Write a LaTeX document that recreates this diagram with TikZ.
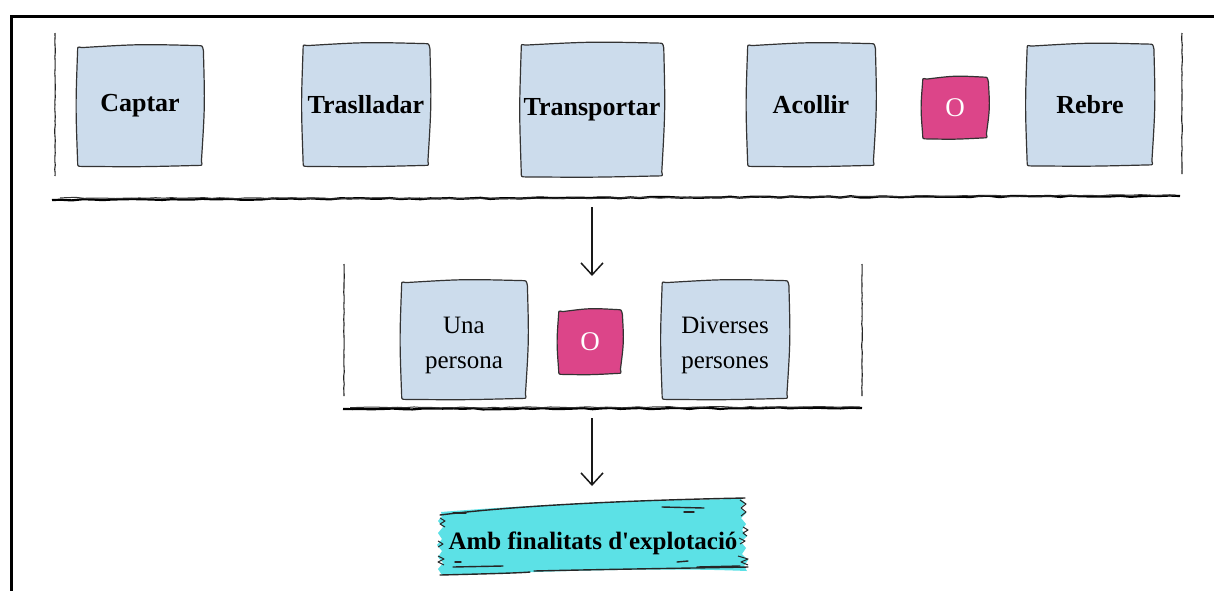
\documentclass[tikz,border=0pt]{standalone}
\usepackage{fontspec}
\setmainfont{Liberation Serif}
\usetikzlibrary{decorations.pathmorphing,arrows.meta,backgrounds}
\definecolor{boxblue}{HTML}{CCDCEC}
\definecolor{pinkO}{HTML}{DC4589}
\definecolor{tapecyan}{HTML}{5CE1E6}
% hand-drawn outline round a named node, #2 = fill colour
\newcommand\sketchbox[2]{%
  \filldraw[skline, fill=#2]
    ([shift={(4,1)}]#1.north west) .. controls ([shift={(0,-2.5)}]#1.north) .. ([shift={(-4,-1)}]#1.north east)
    .. controls ([shift={(0,-1)}]#1.north east) .. ([shift={(1,4)}]#1.north east)
    .. controls ([shift={(2.5,0)}]#1.east) .. ([shift={(-1,-4)}]#1.south east)
    .. controls ([shift={(0,0)}]#1.south east) .. ([shift={(-4,0)}]#1.south east)
    .. controls ([shift={(0,1.5)}]#1.south) .. ([shift={(4,1)}]#1.south west)
    .. controls ([shift={(0,1)}]#1.south west) .. ([shift={(0,-4)}]#1.south west)
    .. controls ([shift={(-2,0)}]#1.west) .. ([shift={(0,4)}]#1.north west)
    .. controls ([shift={(0,0)}]#1.north west) .. cycle;}
\begin{document}
\pgfmathsetseed{7}
\begin{tikzpicture}[x=0.5pt,y=-0.5pt,
  every node/.style={font=\fontsize{12.5}{17.5}\selectfont},
  sbox/.style={inner sep=1pt, align=center},
  bbox/.style={sbox, font=\fontsize{13}{15}\selectfont\bfseries},
  obox/.style={sbox, text=white, font=\fontsize{13.5}{15}\selectfont},
  skline/.style={draw=black!80, line width=0.6pt, line join=round},
  vline/.style={draw=black!85, line width=0.55pt, decorate, decoration={random steps,segment length=2pt,amplitude=0.15pt}},
  brush/.style={draw=black, line width=1.1pt, decorate, decoration={random steps,segment length=5pt,amplitude=0.35pt}},
  brushthin/.style={draw=black!80, line width=0.5pt, decorate, decoration={random steps,segment length=4pt,amplitude=0.3pt}},
  arr/.style={draw=black!90, line width=0.75pt, -{Straight Barb[length=6pt,width=11pt]}},
  tapeline/.style={draw=black!85, line width=0.7pt, line cap=round, line join=round},
  squig/.style={draw=black!85, line width=0.5pt, line join=round}
]
\useasboundingbox (0,0) rectangle (1214,590);

% ---- nodes (text) ----
\node[bbox, minimum width=62pt, minimum height=59pt] (captar) at (140,106) {Captar};
\node[bbox, minimum width=62.5pt, minimum height=60pt] (trasl) at (366,105) {Traslladar};
\node[bbox, minimum width=70pt, minimum height=65.5pt] (transp) at (592,110) {Transportar};
\node[bbox, minimum width=63pt, minimum height=60pt] (acoll) at (811,105) {Acollir};
\node[obox, minimum width=32pt, minimum height=29.5pt] (o1) at (955,108) {O};
\node[bbox, minimum width=62.5pt, minimum height=59.5pt] (rebre) at (1090,105) {Rebre};

\node[sbox, minimum width=62pt, minimum height=58pt, text depth=0pt] (una) at (464,340) {\raisebox{11pt}{\begin{tabular}{@{}c@{}}Una\\[0pt]persona\end{tabular}}};
\node[obox, minimum width=31pt, minimum height=31pt] (o2) at (590,342) {O};
\node[sbox, minimum width=62.5pt, minimum height=58pt, text depth=0pt] (div) at (725,340) {\raisebox{11pt}{\begin{tabular}{@{}c@{}}Diverses\\[0pt]persones\end{tabular}}};

\node[font=\fontsize{12.5}{15}\selectfont\bfseries, inner sep=0pt] (tape) at (593,543) {Amb finalitats d\textquotesingle explotació};

\begin{scope}[on background layer]
\fill[white] (0,0) rectangle (1214,590);
\sketchbox{captar}{boxblue}
\sketchbox{trasl}{boxblue}
\sketchbox{transp}{boxblue}
\sketchbox{acoll}{boxblue}
\sketchbox{o1}{pinkO}
\sketchbox{rebre}{boxblue}
\sketchbox{una}{boxblue}
\sketchbox{o2}{pinkO}
\sketchbox{div}{boxblue}
% ---- tape ----
\fill[tapecyan] (441,512) .. controls (540,504) and (650,500) .. (741,499)
  -- (745,503) -- (740,508) -- (746,513) -- (741,518) -- (746,524) -- (742,530)
  -- (747,536) -- (741,542) -- (746,548) -- (742,554) -- (748,560) -- (744,566) -- (747,571)
  .. controls (650,567) and (540,572) .. (442,575)
  -- (438,569) -- (443,563) -- (438,557) -- (442,551) -- (437,545) -- (442,539)
  -- (438,533) -- (443,527) -- (438,521) -- (442,516) -- cycle;
\draw[tapeline] (440,515) .. controls (520,505) and (640,500) .. (745,498);
\draw[tapeline] (662,507) -- (704,508);
\draw[tapeline] (684,512) -- (694,512);
\draw[tapeline] (453,513) -- (466,513);
\draw[tapeline] (440,575) .. controls (480,574) and (520,573) .. (530,572);
\draw[tapeline] (534,571) .. controls (620,569) and (700,568) .. (748,567);
\draw[tapeline] (455,562) -- (461,562);
\draw[tapeline] (453,567) -- (503,566);
\draw[tapeline] (677,562) -- (688,561);
\draw[tapeline] (697,567) -- (740,566);
\draw[squig] (740,500) -- (746,504) -- (741,508) -- (746,512) -- (741,516);
\draw[squig] (743,527) -- (748,530) -- (743,533) -- (747,536);
\draw[squig] (739,538) -- (745,541) -- (740,544);
\draw[squig] (738,556) -- (748,559) -- (741,562) -- (748,565);
\draw[squig] (440,518) -- (445,521) -- (440,524) -- (445,527);
\draw[squig] (438,541) -- (443,544) -- (438,547);
\draw[squig] (438,556) -- (444,559) -- (438,562) -- (444,565);
\end{scope}

% outer frame
\draw[line width=1.5pt] (11,591) -- (11,16) -- (1215,16);

% ---- top group ----
\draw[vline] (55,33) -- (55,176);
\draw[vline] (1182,33) -- (1182,174);
\draw[brush] (52,200) -- (300,199) -- (560,198) -- (800,197) -- (1180,196);
\draw[brushthin] (60,198) -- (500,198.5) -- (1175,195);

% ---- arrow 1 ----
\coordinate (a1s) at (592,207);
\coordinate (a1e) at (592,276);
\draw[arr] (a1s) -- (a1e);

% ---- middle group ----
\draw[vline] (344,264) -- (344,396);
\draw[vline] (862,264) -- (862,396);
\draw[brush] (343,409) -- (600,408.5) -- (862,408);
\draw[brushthin] (350,407.5) -- (860,407);

% ---- arrow 2 ----
\coordinate (a2s) at (592,418);
\coordinate (a2e) at (592,486);
\draw[arr] (a2s) -- (a2e);
\end{tikzpicture}
\end{document}
